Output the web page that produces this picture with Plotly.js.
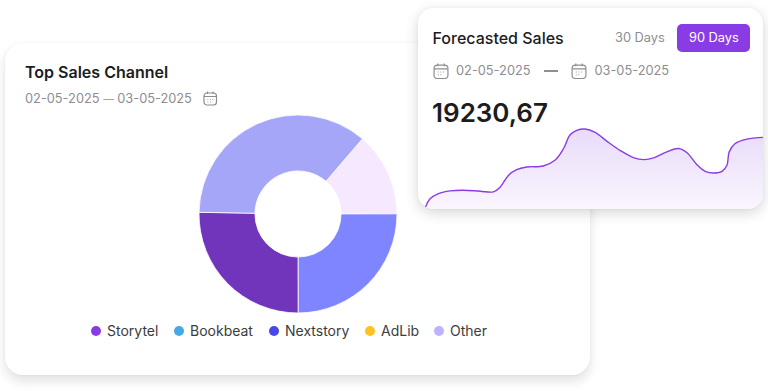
<!DOCTYPE html>
<html><head><meta charset="utf-8">
<script src="https://cdn.plot.ly/plotly-3.0.1.min.js"></script>
<style>
html,body{margin:0;padding:0;background:#fff;width:768px;height:391px;overflow:hidden;font-family:Inter,sans-serif}
.card{position:absolute;background:#fff;overflow:hidden}
#c1{left:5px;top:43px;width:585px;height:332px;border-radius:18px;box-shadow:0 6px 12px rgba(0,0,0,.12),0 0 3px rgba(0,0,0,.04)}
#c2{left:418px;top:8px;width:345px;height:201px;border-radius:15px;box-shadow:0 4px 14px rgba(0,0,0,.16),0 0 3px rgba(0,0,0,.05)}
.t{position:absolute;white-space:nowrap;line-height:1}
.d{color:#8d8d92;font-size:12.8px}
svg.i{position:absolute}
#pie{position:absolute;left:194px;top:72px;width:198px;height:198px}
#area{position:absolute;left:7px;top:118px;width:338px;height:83.5px}
.lg{position:absolute;width:10px;height:10px;border-radius:50%}
</style></head><body>
<div class="card" id="c1">
 <div class="t" style="left:20px;top:21px;font-size:16px;font-weight:600;color:#1c1c1e">Top Sales Channel</div>
 <div class="t d" style="left:20px;top:49.5px"><span id="r1a"></span> <span style="font-size:10.5px">—</span> <span id="r1b"></span></div>
 <svg class="i" style="left:198px;top:48px" width="15" height="15" viewBox="0 0 15 15" fill="none" stroke="#8d8d92" stroke-width="1.2"><rect x="1" y="2" width="12.5" height="12" rx="3"/><path d="M1 5.5H13.5M4.5 .5V3M10 .5V3"/><path d="M4.5 8.5h.8M7 8.5h.8M9.5 8.5h.8M4.5 11h.8M7 11h.8" stroke-width="1"/></svg>
 <div id="pie"></div>
 <div id="legend"></div>
</div>
<div class="card" id="c2">
 <div class="t" style="left:14.5px;top:22px;font-size:16px;font-weight:500;color:#1c1c1e">Forecasted Sales</div>
 <div class="t d" style="left:197px;top:23.5px">30 Days</div>
 <div style="position:absolute;left:259px;top:16px;width:73px;height:28px;border-radius:5px;background:#8a3ce4"></div>
 <div class="t" style="left:271px;top:23.5px;font-size:12.8px;color:#fff">90 Days</div>
 <svg class="i" style="left:15px;top:55px" width="16" height="16" viewBox="0 0 15 15" fill="none" stroke="#8d8d92" stroke-width="1.1"><rect x="1" y="2" width="13" height="12.5" rx="3"/><path d="M1 5.5H14M4.5 .5V3M10.5 .5V3"/><path d="M4.5 8.5h.8M7 8.5h.8M9.5 8.5h.8M4.5 11h.8M7 11h.8" stroke-width="1"/></svg>
 <div class="t d" id="d1" style="left:38px;top:57px"></div>
 <div style="position:absolute;left:125.5px;top:62px;width:14.5px;height:1.6px;background:#8d8d92"></div>
 <svg class="i" style="left:153px;top:55px" width="16" height="16" viewBox="0 0 15 15" fill="none" stroke="#8d8d92" stroke-width="1.1"><rect x="1" y="2" width="13" height="12.5" rx="3"/><path d="M1 5.5H14M4.5 .5V3M10.5 .5V3"/><path d="M4.5 8.5h.8M7 8.5h.8M9.5 8.5h.8M4.5 11h.8M7 11h.8" stroke-width="1"/></svg>
 <div class="t d" id="d2" style="left:176.5px;top:57px"></div>
 <div class="t" style="left:14px;top:92px;font-size:26px;font-weight:600;color:#1c1c1e">19230,67</div>
 <div id="area"></div>
</div>
<script>
const sliceNames = ['Other','Nextstory','Storytel','Bookbeat'];
const sliceValues = [13.7,25,25.3,36];
const sliceColors = ['#f6e9ff','#7f85ff','#7035ba','#a5a6f8'];
const legendNames = ['Storytel','Bookbeat','Nextstory','AdLib','Other'];
const legendColors = ['#8a3ce4','#45a9e8','#4a46e8','#ffc21e','#bdb2ff'];
const legendLeft = [86,169,264,360,429];
const startDate = '02-05-2025', endDate = '03-05-2025';
const days = [0,1.3,3.6,6.7,10.2,14.7,18.2,20,22.2,24.4,27.1,31.5,34.6,36.9,38.6,40.4,42.6,45.3,48.4,52,55.5,58.2,60.9,64.4,67.5,69.7,72.4,74.6,76.8,79.1,80.4,81,82.6,85.7,90];
const sales = [50,330,490,570,590,560,540,680,1030,1200,1280,1310,1480,1830,2230,2370,2410,2310,2050,1770,1560,1500,1550,1730,1830,1710,1350,1150,1100,1150,1330,1730,1980,2110,2160];

document.getElementById('r1a').textContent = startDate;
document.getElementById('r1b').textContent = endDate;
document.getElementById('d1').textContent = startDate;
document.getElementById('d2').textContent = endDate;
const lg = document.getElementById('legend');
legendNames.forEach((n,i)=>{
  lg.insertAdjacentHTML('beforeend',
   `<div class="lg" style="left:${legendLeft[i]}px;top:283px;background:${legendColors[i]}"></div>`+
   `<div class="t" style="left:${legendLeft[i]+16}px;top:281px;font-size:14px;color:#3c3c40">${n}</div>`);
});

Plotly.newPlot('pie',[{type:'pie',labels:sliceNames,values:sliceValues,sort:false,direction:'clockwise',rotation:40.6,hole:0.435,
  marker:{colors:sliceColors,line:{color:'#ffffff',width:0.8}},textinfo:'none',hoverinfo:'label+percent'}],
 {width:198,height:198,margin:{l:0,r:0,t:0,b:0},showlegend:false,paper_bgcolor:'rgba(0,0,0,0)'},{displayModeBar:false,staticPlot:true});

Plotly.newPlot('area',[{type:'scatter',mode:'lines',x:days,y:sales,line:{color:'#8a3ce4',width:1.4,shape:'spline',smoothing:1},
  fill:'tozeroy',fillgradient:{type:'vertical',colorscale:[[0,'#faf6fe'],[1,'#e8dbf9']]}}],
 {width:338,height:83.5,margin:{l:0,r:0,t:0,b:0},showlegend:false,paper_bgcolor:'rgba(0,0,0,0)',plot_bgcolor:'rgba(0,0,0,0)',
  xaxis:{range:[0,90],visible:false,fixedrange:true},yaxis:{range:[0,2500],visible:false,fixedrange:true}},{displayModeBar:false,staticPlot:true});
</script>
</body></html>
